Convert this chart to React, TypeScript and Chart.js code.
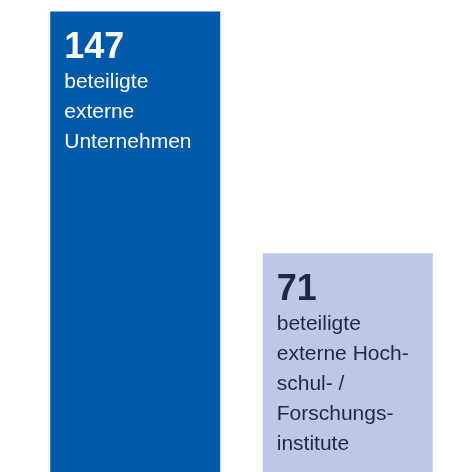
import React, { useEffect, useRef } from "react";
import { Chart, registerables } from "chart.js";

Chart.register(...registerables);

const categories = ["Unternehmen", "Hochschul-/Forschungsinstitute"];
const values = [147, 71];
const barColors = ["#005aa9", "#bbc8e7"];
const textColors = ["#ffffff", "#1e2a45"];
const labelLines = [
  ["beteiligte", "externe", "Unternehmen"],
  ["beteiligte", "externe Hoch-", "schul- /", "Forschungs-", "institute"],
];

const textPlugin = {
  id: "barText",
  afterDatasetsDraw(chart: any) {
    const ctx = chart.ctx;
    const meta = chart.getDatasetMeta(0);
    ctx.save();
    meta.data.forEach((bar: any, i: number) => {
      const left = bar.x - bar.width / 2 + 14;
      const top = bar.y;
      ctx.fillStyle = textColors[i];
      ctx.textAlign = "left";
      ctx.textBaseline = "alphabetic";
      ctx.font = "bold 36px 'Liberation Sans', Arial, sans-serif";
      ctx.fillText(String(values[i]), left, top + 47);
      ctx.font = "21px 'Liberation Sans', Arial, sans-serif";
      labelLines[i].forEach((line, j) => {
        ctx.fillText(line, left, top + 77 + j * 30);
      });
    });
    ctx.restore();
  },
};

export default function App() {
  const ref = useRef<HTMLCanvasElement>(null);
  useEffect(() => {
    if (!ref.current) return;
    const chart = new Chart(ref.current, {
      type: "bar",
      data: {
        labels: categories,
        datasets: [
          {
            data: values,
            backgroundColor: barColors,
            borderWidth: 0,
            categoryPercentage: 1,
            barPercentage: 0.8,
          },
        ],
      },
      options: {
        animation: false,
        responsive: true,
        maintainAspectRatio: false,
        layout: { padding: { left: 29, right: 18, top: 0, bottom: 0 } },
        plugins: { legend: { display: false }, tooltip: { enabled: false } },
        scales: {
          x: { display: false },
          y: { display: false, min: 2.3, max: 150.6 },
        },
      },
      plugins: [textPlugin],
    });
    return () => chart.destroy();
  }, []);
  return (
    <div style={{ position: "absolute", left: 0, top: 0, width: 472, height: 472, background: "#fff" }}>
      <canvas ref={ref} />
    </div>
  );
}
